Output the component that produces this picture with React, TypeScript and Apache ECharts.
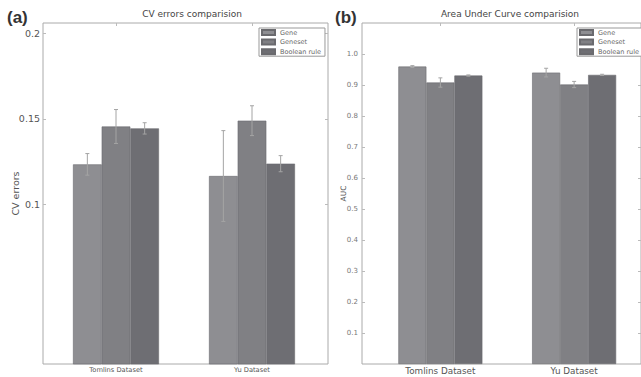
import React, { useEffect, useRef } from "react";
import * as echarts from "echarts";

const categories = ["Tomlins Dataset", "Yu Dataset"];
const seriesNames = ["Gene", "Geneset", "Boolean rule"];
const seriesColors = ["#8e8e92", "#808084", "#6e6e73"];

// CV errors (panel a)
const cvGene = [0.1235, 0.1167];
const cvGeneErr = [0.0063, 0.0265];
const cvGeneset = [0.1456, 0.149];
const cvGenesetErr = [0.0099, 0.0087];
const cvBoolean = [0.1445, 0.1239];
const cvBooleanErr = [0.0033, 0.0047];
const cvTicks = [0.1, 0.15, 0.2];

// AUC (panel b)
const aucGene = [0.9595, 0.94];
const aucGeneErr = [0.003, 0.014];
const aucGeneset = [0.908, 0.9016];
const aucGenesetErr = [0.015, 0.01];
const aucBoolean = [0.9305, 0.9326];
const aucBooleanErr = [0.002, 0.002];
const aucTicks = [0.1, 0.2, 0.3, 0.4, 0.5, 0.6, 0.7, 0.8, 0.9, 1.0];

const FONT = "DejaVu Sans";

export default function App() {
  const ref = useRef<HTMLDivElement>(null);
  useEffect(() => {
    if (!ref.current) return;
    const chart = echarts.init(ref.current, null, { renderer: "svg" });

    const cvVals = [cvGene, cvGeneset, cvBoolean];
    const cvErrs = [cvGeneErr, cvGenesetErr, cvBooleanErr];
    const aucVals = [aucGene, aucGeneset, aucBoolean];
    const aucErrs = [aucGeneErr, aucGenesetErr, aucBooleanErr];

    const leftGap = 0.368;
    const rightGap = 0.372;

    const errRender = (gap: number) => (params: any, api: any) => {
      const cat = api.value(0);
      const val = api.value(1);
      const err = api.value(2);
      const s = api.value(3);
      const band = api.size([1, 0])[0];
      const barW = (band * (1 - gap)) / 3;
      const c = api.coord([cat, val]);
      const hi = api.coord([cat, val + err]);
      const lo = api.coord([cat, val - err]);
      const x = c[0] + (s - 1) * barW;
      const st = { stroke: "#a4a4a4", lineWidth: 1 };
      return {
        type: "group",
        children: [
          { type: "line", shape: { x1: x, y1: hi[1], x2: x, y2: lo[1] }, style: st },
          { type: "line", shape: { x1: x - 2, y1: hi[1], x2: x + 2, y2: hi[1] }, style: st },
          { type: "line", shape: { x1: x - 2, y1: lo[1], x2: x + 2, y2: lo[1] }, style: st },
        ],
      };
    };

    const errData = (vals: number[][], errs: number[][]) => {
      const out: number[][] = [];
      vals.forEach((arr, s) => arr.forEach((v, i) => out.push([i, v, errs[s][i], s])));
      return out;
    };

    const barSeries = (vals: number[][], xi: number, yi: number, gap: number) =>
      vals.map((arr, s) => ({
        type: "bar",
        name: seriesNames[s],
        xAxisIndex: xi,
        yAxisIndex: yi,
        data: arr,
        barGap: "0%",
        barCategoryGap: gap * 100 + "%",
        itemStyle: { color: seriesColors[s], borderColor: "#6a6a6e", borderWidth: 0.6 },
        z: 2,
      }));

    const legendCommon = {
      orient: "vertical",
      data: seriesNames,
      icon: "rect",
      itemWidth: 13,
      itemHeight: 5,
      itemGap: 2.6,
      padding: [1, 4, 1, 2],
      borderColor: "#999",
      borderWidth: 1,
      backgroundColor: "#fff",
      textStyle: { fontSize: 6.5, color: "#666", fontFamily: FONT, lineHeight: 7 },
      selectedMode: false,
    };

    const frameX = (gi: number) => ({
      gridIndex: gi, type: "value", min: 0, max: 1, show: false,
    });
    const catAxis = (gi: number, pos: string, labelSize: number, showLabel: boolean) => ({
      gridIndex: gi,
      type: "category",
      data: categories,
      position: pos,
      axisLine: { show: false },
      axisTick: { show: true, inside: true, alignWithLabel: true, length: 3, lineStyle: { color: "#bbb" } },
      axisLabel: { show: showLabel, fontSize: labelSize, color: "#555", fontFamily: FONT, margin: 2 },
      splitLine: { show: false },
    });
    const hiddenY = (gi: number, min: number, max: number) => ({
      gridIndex: gi, type: "value", min, max, show: false,
    });
    const frameY = (gi: number, min: number, max: number, ticks: number[], pos: string, showLabel: boolean, opts: any) => ({
      gridIndex: gi,
      type: "value",
      min,
      max,
      position: pos,
      axisLine: { show: false },
      splitLine: { show: false },
      axisTick: { show: true, inside: true, length: 3, customValues: ticks, lineStyle: { color: "#bbb" } },
      axisLabel: {
        show: showLabel,
        customValues: ticks,
        ...opts.label,
      },
      ...opts.extra,
    });

    const option: any = {
      animation: false,
      backgroundColor: "#fff",
      grid: [
        { left: 43, top: 23, width: 285, height: 341, show: true, borderColor: "#aaa", borderWidth: 1, backgroundColor: "transparent" },
        { left: 48, top: 23, width: 272, height: 341 },
        { left: 362, top: 23, width: 285, height: 341, show: true, borderColor: "#aaa", borderWidth: 1, backgroundColor: "transparent" },
        { left: 373.5, top: 23, width: 274, height: 341 },
      ],
      xAxis: [
        frameX(0),
        catAxis(1, "bottom", 6.7, true),
        catAxis(1, "top", 6.7, false),
        frameX(2),
        catAxis(3, "bottom", 8.8, true),
        catAxis(3, "top", 8.8, false),
      ],
      yAxis: [
        frameY(0, 0.007, 0.206, cvTicks, "left", true, {
          label: { fontSize: 9.5, color: "#555", fontFamily: FONT, margin: 3 },
          extra: {
            name: "CV errors",
            nameLocation: "middle",
            nameGap: 23,
            nameMoveOverlap: false,
            nameTextStyle: { fontSize: 9.5, color: "#555", fontFamily: FONT },
          },
        }),
        frameY(0, 0.007, 0.206, cvTicks, "right", false, { label: {}, extra: {} }),
        hiddenY(1, 0.007, 0.206),
        frameY(2, 0, 1.1, aucTicks, "left", true, {
          label: { fontSize: 7, color: "#777", fontFamily: FONT, margin: 4, formatter: (v: number) => v.toFixed(1) },
          extra: {
            name: "AUC",
            nameLocation: "middle",
            nameGap: 15,
            nameMoveOverlap: false,
            nameTextStyle: { fontSize: 7.5, color: "#555", fontFamily: FONT },
          },
        }),
        frameY(2, 0, 1.1, aucTicks, "right", false, { label: {}, extra: {} }),
        hiddenY(3, 0, 1.1),
      ],
      legend: [
        { ...legendCommon, left: 259, top: 28 },
        { ...legendCommon, left: 577, top: 28 },
      ],
      series: [
        ...barSeries(cvVals, 1, 2, leftGap),
        {
          type: "custom",
          name: "cv-err",
          xAxisIndex: 1,
          yAxisIndex: 2,
          data: errData(cvVals, cvErrs),
          encode: { x: 0, y: 1 },
          renderItem: errRender(leftGap),
          z: 3,
          silent: true,
        },
        ...barSeries(aucVals, 4, 5, rightGap),
        {
          type: "custom",
          name: "auc-err",
          xAxisIndex: 4,
          yAxisIndex: 5,
          data: errData(aucVals, aucErrs),
          encode: { x: 0, y: 1 },
          renderItem: errRender(rightGap),
          z: 3,
          silent: true,
        },
      ],
      graphic: [
        {
          type: "text", x: 192, y: 14,
          style: { text: "CV errors comparision", fill: "#444", font: `9px "${FONT}"`, textAlign: "center", align: "center", textVerticalAlign: "middle", verticalAlign: "middle" },
        },
        {
          type: "text", x: 510, y: 14,
          style: { text: "Area Under Curve comparision", fill: "#444", font: `9px "${FONT}"`, textAlign: "center", align: "center", textVerticalAlign: "middle", verticalAlign: "middle" },
        },
        {
          type: "text", x: 7, y: 17.5,
          style: { text: "(a)", fill: "#333", font: `bold 17px "Liberation Sans"`, textAlign: "left", align: "left", textVerticalAlign: "middle", verticalAlign: "middle" },
        },
        {
          type: "text", x: 335, y: 17.5,
          style: { text: "(b)", fill: "#333", font: `bold 17px "Liberation Sans"`, textAlign: "left", align: "left", textVerticalAlign: "middle", verticalAlign: "middle" },
        },
      ],
    };
    chart.setOption(option);
    return () => chart.dispose();
  }, []);
  return (
    <div
      ref={ref}
      style={{ position: "absolute", left: 0, top: 0, width: 641, height: 377, background: "#fff" }}
    />
  );
}
